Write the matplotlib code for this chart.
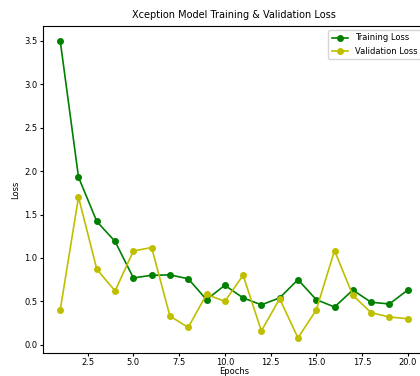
import matplotlib.pyplot as plt

epochs = list(range(1, 21))
train_loss = [3.50, 1.93, 1.42, 1.19, 0.77, 0.80, 0.805, 0.76, 0.52, 0.685,
              0.54, 0.46, 0.54, 0.75, 0.52, 0.435, 0.63, 0.49, 0.47, 0.63]
val_loss = [0.40, 1.70, 0.87, 0.62, 1.08, 1.12, 0.33, 0.20, 0.58, 0.50,
            0.80, 0.16, 0.53, 0.08, 0.40, 1.085, 0.57, 0.37, 0.32, 0.30]

fig = plt.figure(figsize=(4.2, 3.76), dpi=100)
ax = fig.add_axes([0.102, 0.062, 0.91, 0.869])

ax.plot(epochs, train_loss, 'g', marker='o', markersize=4, linewidth=1.2, label='Training Loss')
ax.plot(epochs, val_loss, 'y', marker='o', markersize=4, linewidth=1.2, label='Validation Loss')

ax.set_title('Xception Model Training & Validation Loss', fontsize=7)
ax.set_xlabel('Epochs', fontsize=6, labelpad=0)
ax.set_ylabel('Loss', fontsize=6, labelpad=3)
ax.tick_params(labelsize=6, length=2.5, pad=1.5)
ax.set_xticks([2.5, 5.0, 7.5, 10.0, 12.5, 15.0, 17.5, 20.0])
ax.set_yticks([0.0, 0.5, 1.0, 1.5, 2.0, 2.5, 3.0, 3.5])
ax.legend(loc='upper right', fontsize=6)

fig.savefig('out.png', dpi=100)
